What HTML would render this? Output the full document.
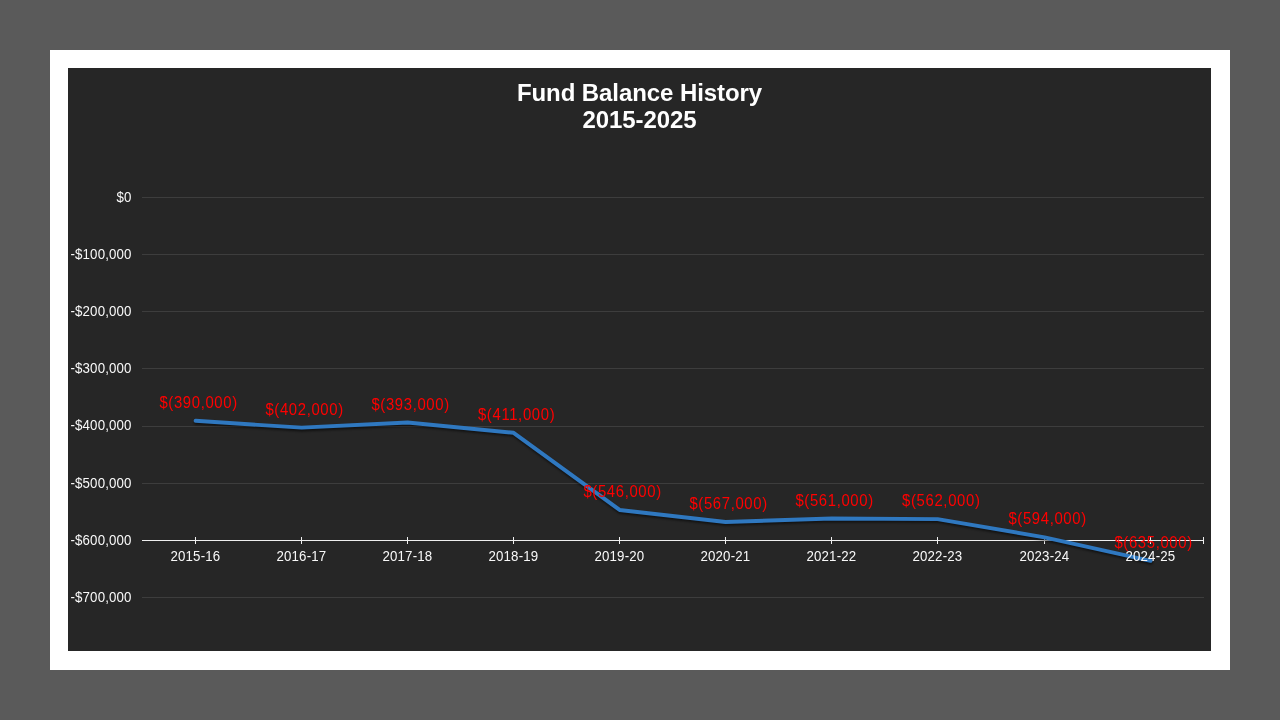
<!DOCTYPE html>
<html><head><meta charset="utf-8"><style>
html,body{margin:0;padding:0;}
body{width:1280px;height:720px;background:#5a5a5a;position:relative;overflow:hidden;font-family:"Liberation Sans",sans-serif;}
#frame{position:absolute;left:50px;top:50px;width:1180px;height:620px;background:#fff;}
#chart{position:absolute;left:68px;top:68px;width:1143px;height:583px;background:#262626;}
svg{position:absolute;left:0;top:0;will-change:transform;}
.ax{font-size:14.3px;letter-spacing:0.15px;fill:#f8f8f8;}
.dl{font-size:16px;letter-spacing:0.7px;fill:#ff0000;}
.tt{font-size:24px;font-weight:bold;letter-spacing:-0.08px;fill:#ffffff;}
</style></head><body>
<div id="frame"></div>
<div id="chart"></div>
<svg width="1280" height="720" viewBox="0 0 1280 720">
<defs><filter id="blur" x="-5%" y="-50%" width="110%" height="200%"><feGaussianBlur stdDeviation="1.2"/></filter></defs>
<text x="639.5" y="101" text-anchor="middle" class="tt">Fund Balance History</text>
<text x="639.5" y="128" text-anchor="middle" class="tt">2015-2025</text>
<rect x="142" y="197" width="1062" height="1" fill="#3d3d3d"/>
<rect x="142" y="254" width="1062" height="1" fill="#3d3d3d"/>
<rect x="142" y="311" width="1062" height="1" fill="#3d3d3d"/>
<rect x="142" y="368" width="1062" height="1" fill="#3d3d3d"/>
<rect x="142" y="426" width="1062" height="1" fill="#3d3d3d"/>
<rect x="142" y="483" width="1062" height="1" fill="#3d3d3d"/>
<rect x="142" y="597" width="1062" height="1" fill="#3d3d3d"/>
<text transform="translate(131.6,202) scale(0.93,1)" text-anchor="end" class="ax">$0</text>
<text transform="translate(131.6,259) scale(0.93,1)" text-anchor="end" class="ax">-$100,000</text>
<text transform="translate(131.6,316) scale(0.93,1)" text-anchor="end" class="ax">-$200,000</text>
<text transform="translate(131.6,373) scale(0.93,1)" text-anchor="end" class="ax">-$300,000</text>
<text transform="translate(131.6,430.4) scale(0.93,1)" text-anchor="end" class="ax">-$400,000</text>
<text transform="translate(131.6,488) scale(0.93,1)" text-anchor="end" class="ax">-$500,000</text>
<text transform="translate(131.6,545) scale(0.93,1)" text-anchor="end" class="ax">-$600,000</text>
<text transform="translate(131.6,602) scale(0.93,1)" text-anchor="end" class="ax">-$700,000</text>
<rect x="142" y="540" width="1062" height="1" fill="#efefef"/>
<rect x="195" y="537" width="1" height="7" fill="#efefef"/>
<rect x="301" y="537" width="1" height="7" fill="#efefef"/>
<rect x="407" y="537" width="1" height="7" fill="#efefef"/>
<rect x="513" y="537" width="1" height="7" fill="#efefef"/>
<rect x="619" y="537" width="1" height="7" fill="#efefef"/>
<rect x="725" y="537" width="1" height="7" fill="#efefef"/>
<rect x="831" y="537" width="1" height="7" fill="#efefef"/>
<rect x="937" y="537" width="1" height="7" fill="#efefef"/>
<rect x="1044" y="537" width="1" height="7" fill="#efefef"/>
<rect x="1150" y="537" width="1" height="7" fill="#efefef"/>
<rect x="1203" y="537" width="1" height="7" fill="#efefef"/>
<polyline points="195.60,420.81 301.60,427.66 407.60,422.52 513.60,432.81 619.60,509.95 725.60,521.95 831.60,518.52 937.60,519.09 1044.60,537.38 1150.60,560.81" fill="none" stroke="#000" stroke-opacity="0.55" stroke-width="3.9" stroke-linejoin="round" stroke-linecap="round" transform="translate(0.3,1.8)" filter="url(#blur)"/>
<polyline points="195.60,420.81 301.60,427.66 407.60,422.52 513.60,432.81 619.60,509.95 725.60,521.95 831.60,518.52 937.60,519.09 1044.60,537.38 1150.60,560.81" fill="none" stroke="#2f78c0" stroke-width="3.9" stroke-linejoin="round" stroke-linecap="round"/>
<text transform="translate(195.40,561) scale(0.93,1)" text-anchor="middle" class="ax">2015-16</text>
<text transform="translate(301.40,561) scale(0.93,1)" text-anchor="middle" class="ax">2016-17</text>
<text transform="translate(407.40,561) scale(0.93,1)" text-anchor="middle" class="ax">2017-18</text>
<text transform="translate(513.40,561) scale(0.93,1)" text-anchor="middle" class="ax">2018-19</text>
<text transform="translate(619.40,561) scale(0.93,1)" text-anchor="middle" class="ax">2019-20</text>
<text transform="translate(725.40,561) scale(0.93,1)" text-anchor="middle" class="ax">2020-21</text>
<text transform="translate(831.40,561) scale(0.93,1)" text-anchor="middle" class="ax">2021-22</text>
<text transform="translate(937.40,561) scale(0.93,1)" text-anchor="middle" class="ax">2022-23</text>
<text transform="translate(1044.40,561) scale(0.93,1)" text-anchor="middle" class="ax">2023-24</text>
<text transform="translate(1150.40,561) scale(0.93,1)" text-anchor="middle" class="ax">2024-25</text>
<text transform="translate(198.60,408.00) scale(0.93,1)" text-anchor="middle" class="dl">$(390,000)</text>
<text transform="translate(304.60,415.00) scale(0.93,1)" text-anchor="middle" class="dl">$(402,000)</text>
<text transform="translate(410.60,410.00) scale(0.93,1)" text-anchor="middle" class="dl">$(393,000)</text>
<text transform="translate(516.60,420.00) scale(0.93,1)" text-anchor="middle" class="dl">$(411,000)</text>
<text transform="translate(622.60,497.00) scale(0.93,1)" text-anchor="middle" class="dl">$(546,000)</text>
<text transform="translate(728.60,509.00) scale(0.93,1)" text-anchor="middle" class="dl">$(567,000)</text>
<text transform="translate(834.60,506.00) scale(0.93,1)" text-anchor="middle" class="dl">$(561,000)</text>
<text transform="translate(941.30,506.00) scale(0.93,1)" text-anchor="middle" class="dl">$(562,000)</text>
<text transform="translate(1047.60,524.00) scale(0.93,1)" text-anchor="middle" class="dl">$(594,000)</text>
<text transform="translate(1153.60,548.00) scale(0.93,1)" text-anchor="middle" class="dl">$(635,000)</text>
</svg>
</body></html>
